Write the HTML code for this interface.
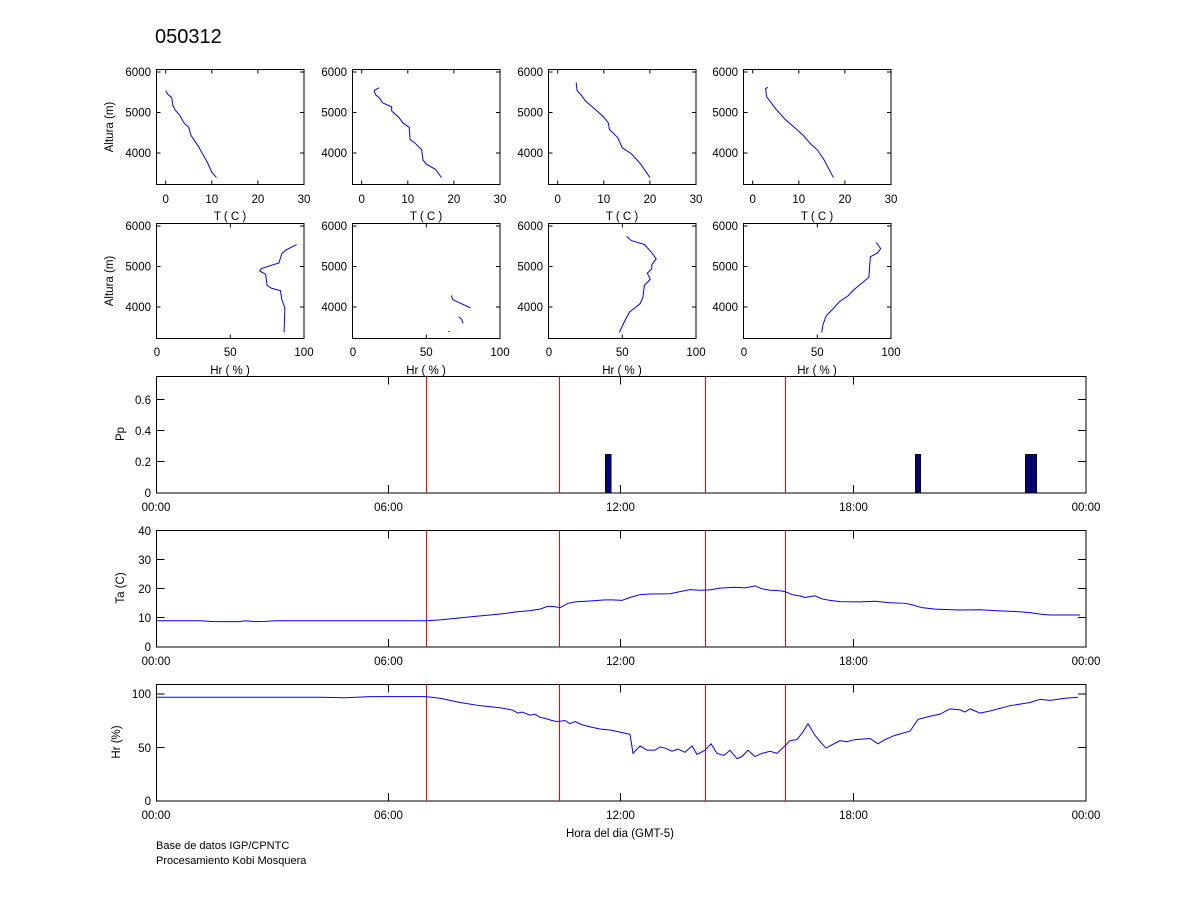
<!DOCTYPE html>
<html><head><meta charset="utf-8"><style>
html,body{margin:0;padding:0;background:#fff;}
svg{display:block;font-family:"Liberation Sans",sans-serif;}
</style></head><body>
<svg width="1200" height="900" xmlns="http://www.w3.org/2000/svg">
<rect width="1200" height="900" fill="#fff"/>
<text x="155" y="43" font-size="20">050312</text>

<g stroke="#000" fill="none" stroke-width="1">
<rect x="156.5" y="69.5" width="147.5" height="115"/>
<rect x="352.5" y="69.5" width="147.5" height="115"/>
<rect x="548.5" y="69.5" width="147.5" height="115"/>
<rect x="743.5" y="69.5" width="147.5" height="115"/>
<rect x="156.5" y="223.5" width="147.5" height="115"/>
<rect x="352.5" y="223.5" width="147.5" height="115"/>
<rect x="548.5" y="223.5" width="147.5" height="115"/>
<rect x="743.5" y="223.5" width="147.5" height="115"/>
</g>

<g stroke="#000" stroke-width="1">
<path d="M156.5 72h4M156.5 112.5h4M156.5 153h4M304 72h-4M304 112.5h-4M304 153h-4
M352.5 72h4M352.5 112.5h4M352.5 153h4M500 72h-4M500 112.5h-4M500 153h-4
M548.5 72h4M548.5 112.5h4M548.5 153h4M696 72h-4M696 112.5h-4M696 153h-4
M743.5 72h4M743.5 112.5h4M743.5 153h4M891 72h-4M891 112.5h-4M891 153h-4
M156.5 226h4M156.5 266.5h4M156.5 307h4M304 226h-4M304 266.5h-4M304 307h-4
M352.5 226h4M352.5 266.5h4M352.5 307h4M500 226h-4M500 266.5h-4M500 307h-4
M548.5 226h4M548.5 266.5h4M548.5 307h4M696 226h-4M696 266.5h-4M696 307h-4
M743.5 226h4M743.5 266.5h4M743.5 307h4M891 226h-4M891 266.5h-4M891 307h-4
M165.7 184.5v-4M211.8 184.5v-4M257.9 184.5v-4M165.7 69.5v4M211.8 69.5v4M257.9 69.5v4
M361.7 184.5v-4M407.8 184.5v-4M453.9 184.5v-4M361.7 69.5v4M407.8 69.5v4M453.9 69.5v4
M557.7 184.5v-4M603.8 184.5v-4M649.9 184.5v-4M557.7 69.5v4M603.8 69.5v4M649.9 69.5v4
M752.7 184.5v-4M798.8 184.5v-4M844.9 184.5v-4M752.7 69.5v4M798.8 69.5v4M844.9 69.5v4
M230.3 338.5v-4M230.3 223.5v4M426.3 338.5v-4M426.3 223.5v4M622.3 338.5v-4M622.3 223.5v4M817.3 338.5v-4M817.3 223.5v4"/>
</g>

<g font-size="11.5" text-anchor="end">
<text x="151" y="76">6000</text><text x="151" y="116.5">5000</text><text x="151" y="157">4000</text>
<text x="347" y="76">6000</text><text x="347" y="116.5">5000</text><text x="347" y="157">4000</text>
<text x="543" y="76">6000</text><text x="543" y="116.5">5000</text><text x="543" y="157">4000</text>
<text x="738" y="76">6000</text><text x="738" y="116.5">5000</text><text x="738" y="157">4000</text>
<text x="151" y="230">6000</text><text x="151" y="270.5">5000</text><text x="151" y="311">4000</text>
<text x="347" y="230">6000</text><text x="347" y="270.5">5000</text><text x="347" y="311">4000</text>
<text x="543" y="230">6000</text><text x="543" y="270.5">5000</text><text x="543" y="311">4000</text>
<text x="738" y="230">6000</text><text x="738" y="270.5">5000</text><text x="738" y="311">4000</text>
<text x="151" y="404">0.6</text><text x="151" y="435">0.4</text><text x="151" y="466">0.2</text><text x="151" y="497">0</text>
<text x="151" y="535">40</text><text x="151" y="564">30</text><text x="151" y="593">20</text><text x="151" y="622">10</text><text x="151" y="651">0</text>
<text x="151" y="698">100</text><text x="151" y="752">50</text><text x="151" y="805">0</text>
</g>
<g font-size="11.5" text-anchor="middle">
<text x="165.7" y="203">0</text><text x="211.8" y="203">10</text><text x="257.9" y="203">20</text><text x="304" y="203">30</text>
<text x="361.7" y="203">0</text><text x="407.8" y="203">10</text><text x="453.9" y="203">20</text><text x="500" y="203">30</text>
<text x="557.7" y="203">0</text><text x="603.8" y="203">10</text><text x="649.9" y="203">20</text><text x="696" y="203">30</text>
<text x="752.7" y="203">0</text><text x="798.8" y="203">10</text><text x="844.9" y="203">20</text><text x="891" y="203">30</text>
<text x="230" y="220">T ( C )</text><text x="426" y="220">T ( C )</text><text x="622" y="220">T ( C )</text><text x="817" y="220">T ( C )</text>
<text x="157" y="356">0</text><text x="230.3" y="356">50</text><text x="304" y="356">100</text>
<text x="353" y="356">0</text><text x="426.3" y="356">50</text><text x="500" y="356">100</text>
<text x="549" y="356">0</text><text x="622.3" y="356">50</text><text x="696" y="356">100</text>
<text x="744" y="356">0</text><text x="817.3" y="356">50</text><text x="891" y="356">100</text>
<text x="230" y="374">Hr ( % )</text><text x="426" y="374">Hr ( % )</text><text x="622" y="374">Hr ( % )</text><text x="817" y="374">Hr ( % )</text>
<text x="156" y="511">00:00</text><text x="388.5" y="511">06:00</text><text x="620.5" y="511">12:00</text><text x="853.5" y="511">18:00</text><text x="1086" y="511">00:00</text>
<text x="156" y="665">00:00</text><text x="388.5" y="665">06:00</text><text x="620.5" y="665">12:00</text><text x="853.5" y="665">18:00</text><text x="1086" y="665">00:00</text>
<text x="156" y="819">00:00</text><text x="388.5" y="819">06:00</text><text x="620.5" y="819">12:00</text><text x="853.5" y="819">18:00</text><text x="1086" y="819">00:00</text>
<text x="620" y="837">Hora del dia (GMT-5)</text>
<text transform="translate(113,127) rotate(-90)">Altura (m)</text>
<text transform="translate(113,281) rotate(-90)">Altura (m)</text>
<text transform="translate(124,434) rotate(-90)">Pp</text>
<text transform="translate(124,588) rotate(-90)">Ta (C)</text>
<text transform="translate(120,742) rotate(-90)">Hr (%)</text>
</g>
<g font-size="11">
<text x="156" y="849">Base de datos IGP/CPNTC</text>
<text x="156" y="864">Procesamiento Kobi Mosquera</text>
</g>

<g fill="none" stroke="#0000ff" stroke-width="1">
<svg x="156.5" y="69.5" width="147.5" height="115" viewBox="-2 -6065 32 2815" preserveAspectRatio="none" overflow="visible">
<polyline vector-effect="non-scaling-stroke" points="0,-5550 0.5,-5450 1.3,-5380 1.5,-5200 2,-5080 3,-4950 4,-4750 5,-4650 5.5,-4450 7,-4200 8,-4000 9,-3800 10,-3550 11,-3420"/>
</svg>
<svg x="352.5" y="69.5" width="147.5" height="115" viewBox="-2 -6065 32 2815" preserveAspectRatio="none" overflow="visible">
<polyline vector-effect="non-scaling-stroke" points="3.8,-5620 2.7,-5550 3,-5450 4,-5350 4.5,-5250 6.5,-5150 6.5,-5050 8,-4900 9,-4750 10.3,-4650 10.5,-4350 11.5,-4270 13,-4100 13.3,-3850 14,-3750 16,-3620 17.3,-3420"/>
</svg>
<svg x="548.5" y="69.5" width="147.5" height="115" viewBox="-2 -6065 32 2815" preserveAspectRatio="none" overflow="visible">
<polyline vector-effect="non-scaling-stroke" points="4,-5750 4.2,-5550 5,-5450 6,-5300 8,-5100 10,-4900 11,-4750 11.2,-4600 13,-4400 14,-4150 16,-4000 18,-3750 20,-3420"/>
</svg>
<svg x="743.5" y="69.5" width="147.5" height="115" viewBox="-2 -6065 32 2815" preserveAspectRatio="none" overflow="visible">
<polyline vector-effect="non-scaling-stroke" points="3.3,-5630 2.8,-5600 3,-5400 4,-5250 5,-5100 7,-4850 9,-4650 11,-4450 12.5,-4250 14,-4100 15.5,-3850 17.5,-3420"/>
</svg>
<svg x="156.5" y="223.5" width="147.5" height="115" viewBox="0 -6065 100 2815" preserveAspectRatio="none" overflow="visible">
<polyline vector-effect="non-scaling-stroke" points="95,-5550 88,-5420 85,-5330 83,-5100 76,-5020 71,-4960 70,-4900 74,-4820 75,-4550 78,-4480 84,-4420 85,-4200 87,-4000 86.5,-3400"/>
</svg>
<svg x="352.5" y="223.5" width="147.5" height="115" viewBox="0 -6065 100 2815" preserveAspectRatio="none" overflow="visible">
<polyline vector-effect="non-scaling-stroke" points="67,-4300 68,-4200 74,-4100 80,-4000"/>
<polyline vector-effect="non-scaling-stroke" points="72,-3780 74,-3720 75,-3620"/>
<polyline vector-effect="non-scaling-stroke" points="65,-3420 66,-3420"/>
</svg>
<svg x="548.5" y="223.5" width="147.5" height="115" viewBox="0 -6065 100 2815" preserveAspectRatio="none" overflow="visible">
<polyline vector-effect="non-scaling-stroke" points="53,-5750 56,-5650 65,-5550 70,-5350 73,-5200 70,-5050 70,-4950 67,-4850 69,-4700 65,-4550 64,-4250 62,-4100 55,-3900 52,-3700 48,-3400"/>
</svg>
<svg x="743.5" y="223.5" width="147.5" height="115" viewBox="0 -6065 100 2815" preserveAspectRatio="none" overflow="visible">
<polyline vector-effect="non-scaling-stroke" points="90,-5600 93,-5450 91,-5350 86,-5250 85,-4750 80,-4600 75,-4450 71,-4300 65,-4150 60,-3950 56,-3800 54,-3600 53,-3400"/>
</svg>
</g>

<g stroke="#000" fill="none" stroke-width="1">
<rect x="156.5" y="376.5" width="929.5" height="116.5"/>
<rect x="156.5" y="530.5" width="929.5" height="116.5"/>
<rect x="156.5" y="684.5" width="929.5" height="116.5"/>
<path d="M388.5 376.5v8M388.5 493v-8M620.5 376.5v8M620.5 493v-8M853.5 376.5v8M853.5 493v-8
M388.5 530.5v8M388.5 647v-8M620.5 530.5v8M620.5 647v-8M853.5 530.5v8M853.5 647v-8
M388.5 684.5v8M388.5 801v-8M620.5 684.5v8M620.5 801v-8M853.5 684.5v8M853.5 801v-8
M156.5 399.5h8M156.5 430.5h8M156.5 461.5h8M1086 399.5h-8M1086 430.5h-8M1086 461.5h-8
M156.5 559.5h8M156.5 588.5h8M156.5 617.5h8M1086 559.5h-8M1086 588.5h-8M1086 617.5h-8
M156.5 694h8M156.5 747.5h8M1086 694h-8M1086 747.5h-8"/>
</g>
<g stroke="#ff0000" stroke-width="1">
<path d="M426.5 376.5v116.5M559.5 376.5v116.5M705.5 376.5v116.5M785.5 376.5v116.5
M426.5 530.5v116.5M559.5 530.5v116.5M705.5 530.5v116.5M785.5 530.5v116.5
M426.5 684.5v116.5M559.5 684.5v116.5M705.5 684.5v116.5M785.5 684.5v116.5"/>
</g>
<g fill="#000080" stroke="#000" stroke-width="1">
<rect x="605.5" y="454.5" width="5.5" height="38.5"/>
<rect x="915.5" y="454.5" width="5" height="38.5"/>
<rect x="1025.5" y="454.5" width="5.5" height="38.5"/>
<rect x="1031" y="454.5" width="5.5" height="38.5"/>
</g>
<g fill="none" stroke="#0000ff" stroke-width="1">
<svg x="156.5" y="530.5" width="929.5" height="116.5" viewBox="156.5 -40 929.5 40" preserveAspectRatio="none" overflow="visible">
<polyline vector-effect="non-scaling-stroke" points="157,-9 200,-9 215,-8.7 240,-8.7 245,-9 255,-8.7 265,-8.8 275,-9 426,-9 440,-9.3 460,-10 475,-10.5 490,-11 505,-11.5 515,-12 530,-12.5 540,-13 548,-14 555,-13.8 560,-13.5 568,-15 575,-15.5 590,-15.8 605,-16.2 612,-16.2 622,-16 630,-17 640,-18 650,-18.2 670,-18.3 680,-19 690,-19.7 700,-19.5 710,-19.6 720,-20.2 735,-20.5 745,-20.3 755,-21 762,-20 770,-19.5 780,-19.3 785,-19 792,-18 800,-17.5 805,-17 815,-17.6 822,-16.5 830,-16 840,-15.6 860,-15.5 875,-15.7 890,-15.2 905,-15 912,-14.5 922,-13.5 935,-13 960,-12.7 980,-12.8 1000,-12.4 1015,-12.2 1030,-11.8 1040,-11.3 1050,-11 1080,-11"/>
</svg>
<svg x="156.5" y="684.5" width="929.5" height="116.5" viewBox="156.5 -110 929.5 110" preserveAspectRatio="none" overflow="visible">
<polyline vector-effect="non-scaling-stroke" points="157,-98 250,-98 320,-98 345,-97.5 370,-98.5 426,-98.5 440,-97 460,-93 480,-90 500,-88 512,-86 518,-83 522,-84 530,-81 535,-82 540,-79 545,-78 552,-76 557,-75 565,-76 570,-73 575,-75 582,-72 590,-70 600,-68 610,-67 620,-65 625,-64 630,-63 633,-45 640,-52 647,-48 655,-48 660,-51 665,-50 672,-47 678,-49 685,-46 692,-52 697,-44 705,-48 711,-54 717,-45 724,-43 730,-48 737,-40 742,-42 748,-48 755,-42 762,-45 770,-47 777,-45 785,-52 790,-57 797,-58 802,-64 808,-73 815,-62 822,-54 826,-50 832,-53 840,-57 847,-56 855,-58 870,-59 878,-54 885,-58 895,-62 910,-66 918,-77 930,-80 940,-82 950,-87 960,-86 965,-84 970,-87 980,-83 990,-85 1010,-90 1030,-93 1040,-96 1050,-95 1065,-97 1078,-98"/>
</svg>
</g>
</svg>
</body></html>
